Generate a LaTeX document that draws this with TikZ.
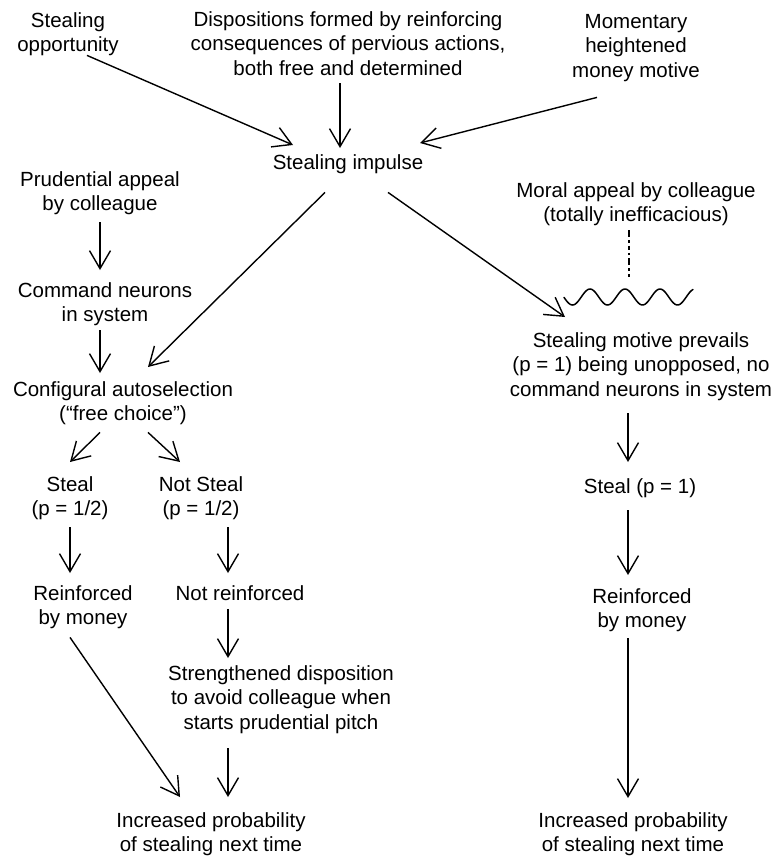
\documentclass[tikz,border=0pt]{standalone}
\usepackage{fontspec}
\setmainfont{Liberation Sans}
\usetikzlibrary{arrows.meta,calc}
\tikzset{
  lbl/.style={align=center, inner sep=0pt, anchor=north, font=\fontsize{20.5}{24.5}\selectfont},
  arr/.style={line width=1.4pt, -{Straight Barb[length=18pt,width=21pt,line width=1.4pt]}},
  plain/.style={line width=1.5pt},
  dashline/.style={line width=1.6pt, dash pattern=on 7pt off 3pt on 2.5pt off 3pt on 4pt off 3pt on 2.5pt off 3pt}
}
\begin{document}
\begin{tikzpicture}[x=1pt,y=-1pt]
\path[use as bounding box] (0,0) rectangle (776,857);

% nodes
\node[lbl] (opp) at (68,10) {\strut Stealing\\\strut opportunity};
\node[lbl] (disp) at (348,9) {\strut Dispositions formed by reinforcing\\\strut consequences of pervious actions,\\\strut both free and determined};
\node[lbl] (mom) at (636,11) {\strut Momentary\\\strut heightened\\\strut money motive};
\node[lbl] (imp) at (348,152) {\strut Stealing impulse};
\node[lbl] (prud) at (100,169) {\strut Prudential appeal\\\strut by colleague};
\node[lbl] (cmd) at (105,280) {\strut Command neurons\\\strut in system};
\node[lbl] (conf) at (123,379) {\strut Configural autoselection\\\strut (“free choice”)};
\node[lbl] (moral) at (636,180) {\strut Moral appeal by colleague\\\strut (totally inefficacious)};
\node[lbl] (prev) at (641,330) {\strut Stealing motive prevails\\\strut (p = 1) being unopposed, no\\\strut command neurons in system};
\node[lbl] (stealL) at (70,474) {\strut Steal\\\strut (p = 1/2)};
\node[lbl] (notsteal) at (201,474) {\strut Not Steal\\\strut (p = 1/2)};
\node[lbl] (reinfL) at (83,583) {\strut Reinforced\\\strut by money};
\node[lbl] (notreinf) at (240,583) {\strut Not reinforced};
\node[lbl] (strength) at (281,663) {\strut Strengthened disposition\\\strut to avoid colleague when\\\strut starts prudential pitch};
\node[lbl] (incL) at (211,810) {\strut Increased probability\\\strut of stealing next time};
\node[lbl] (stealR) at (640,476) {\strut Steal (p = 1)};
\node[lbl] (reinfR) at (642,586) {\strut Reinforced\\\strut by money};
\node[lbl] (incR) at (633,810) {\strut Increased probability\\\strut of stealing next time};

\coordinate (wave) at (628,297);

% wavy line
\draw[plain, line cap=round] plot[domain=-26:103, samples=120, smooth] ({\x+590}, {297-8*cos(\x*10.2857)});

% dashed line from moral appeal
\draw[dashline] ($(moral.south)+(-7,1)$) -- ($(wave)+(1,-20)$);

% arrows
\draw[arr] ($(opp.south)+(19,-4)$) -- ($(imp.north)+(-55,-7)$);
\draw[arr] ($(disp.south)+(-8,0.5)$) -- ($(imp.north)+(-8,-4)$);
\draw[arr] ($(mom.south)+(-39,12.5)$) -- ($(imp.north)+(72,-9)$);
\draw[arr] ($(imp.south)+(-23,15.5)$) -- ($(conf.north)+(25,-12)$);
\draw[arr] ($(imp.south)+(40,15.5)$) -- ($(wave)+(-63,20)$);
\draw[arr] ($(prud.south)+(0,4)$) -- ($(cmd.north)+(-5,-10)$);
\draw[arr] ($(cmd.south)+(-5,1)$) -- ($(conf.north)+(-23,-6)$);
\draw[arr] ($(conf.south)+(-23,4)$) -- ($(stealL.north)+(0,-12)$);
\draw[arr] ($(conf.south)+(25,4)$) -- ($(notsteal.north)+(-21,-12)$);
\draw[arr] ($(stealL.south)+(0,4)$) -- ($(reinfL.north)+(-13,-10)$);
\draw[arr] ($(notsteal.south)+(27,4)$) -- ($(notreinf.north)+(-12,-10)$);
\draw[arr] ($(notreinf.south)+(-12,1)$) -- ($(strength.north)+(-53,-5)$);
\draw[arr] ($(strength.south)+(-53,11.5)$) -- ($(incL.north)+(17,-13)$);
\draw[arr] ($(reinfL.south)+(-13,5)$) -- ($(incL.north)+(-31,-13)$);
\draw[arr] ($(prev.south)+(-13,9.5)$) -- ($(stealR.north)+(-12,-14)$);
\draw[arr] ($(stealR.south)+(-12,9.5)$) -- ($(reinfR.north)+(-14,-11)$);
\draw[arr] ($(reinfR.south)+(-14,3)$) -- ($(incR.north)+(-5,-12)$);
\end{tikzpicture}
\end{document}
